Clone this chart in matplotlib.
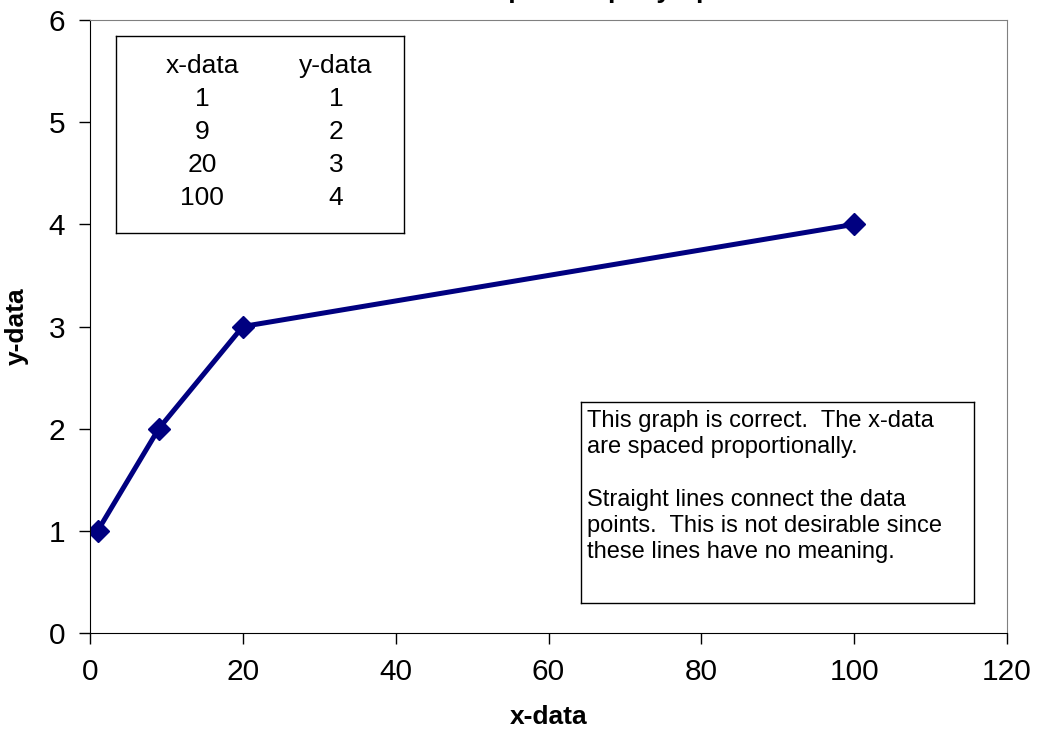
import matplotlib
matplotlib.use('Agg')
import matplotlib.pyplot as plt

x_data = [1, 9, 20, 100]
y_data = [1, 2, 3, 4]
x_ticks = [0, 20, 40, 60, 80, 100, 120]
y_ticks = [0, 1, 2, 3, 4, 5, 6]
title = 'XY Scatter Graph - Properly Spaced'
note = ('This graph is correct.  The x-data\nare spaced proportionally.\n\n'
        'Straight lines connect the data\npoints.  This is not desirable since\n'
        'these lines have no meaning.')

plt.rcParams['font.family'] = ['Liberation Sans', 'DejaVu Sans']

fig = plt.figure(figsize=(10.42, 7.42), dpi=100)
ax = fig.add_axes([90/1042, 109/742, 917/1042, 613/742])

ax.plot(x_data, y_data, color='#000080', lw=3.6, marker='D', ms=11, mec='#000080', mfc='#000080')

ax.set_xlim(0, 120)
ax.set_ylim(0, 6)
ax.set_xticks(x_ticks)
ax.set_yticks(y_ticks)
ax.tick_params(labelsize=21.5, length=8, width=1, direction='out', pad=10, color='black')
for s in ['top', 'right']:
    ax.spines[s].set_color('#808080')
for s in ['left', 'bottom']:
    ax.spines[s].set_color('black')

ax.set_xlabel('x-data', fontsize=19, fontweight='bold', labelpad=14)
ax.set_ylabel('y-data', fontsize=19, fontweight='bold', labelpad=14)

# title sits mostly above the figure edge, as in the original
fig.text(548/1042, 1.0 + 2/742, title, ha='center', va='baseline', fontsize=19, fontweight='bold')

# data table box
tab = fig.add_axes([116/1042, (742-233)/742, 288/1042, 197/742])
tab.set_xticks([])
tab.set_yticks([])
tab.set_xlim(0, 1)
tab.set_ylim(0, 1)
for s in tab.spines.values():
    s.set_color('black')
    s.set_linewidth(1)
rows = [('x-data', 'y-data')] + [(str(a), str(b)) for a, b in zip(x_data, y_data)]
for i, (a, b) in enumerate(rows):
    yy = 1 - (30 + i * 33) / 197
    tab.text(86/288, yy, a, ha='center', va='center', fontsize=19)
    tab.text(220/288, yy, b, ha='center', va='center', fontsize=19)

# note box
nb = fig.add_axes([581/1042, (742-603)/742, 393/1042, 201/742])
nb.set_xticks([])
nb.set_yticks([])
nb.set_xlim(0, 1)
nb.set_ylim(0, 1)
for s in nb.spines.values():
    s.set_color('black')
    s.set_linewidth(1)
nb.text(6/393, 1 - 8/201, note, ha='left', va='top', fontsize=17, linespacing=1.25)

fig.savefig('out.png', dpi=100)
